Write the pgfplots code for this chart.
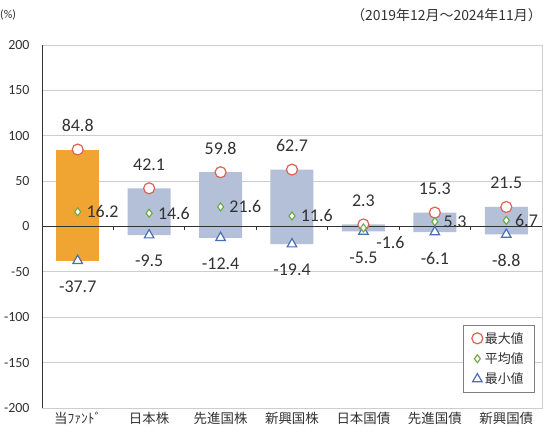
\documentclass[border=0pt]{standalone}
\usepackage{fontspec}
\setmainfont{Carlito}
\newfontfamily\jp{Noto Sans CJK JP}
\usepackage{pgfplots}
\pgfplotsset{compat=1.18}
\definecolor{orangebar}{RGB}{240,165,50}
\definecolor{bluebar}{RGB}{180,191,216}
\definecolor{cmax}{RGB}{222,98,82}
\definecolor{cavg}{RGB}{106,168,70}
\definecolor{cmin}{RGB}{72,110,180}
\definecolor{gridc}{RGB}{205,205,205}
\definecolor{txt}{RGB}{50,50,50}
\begin{document}
\begin{tikzpicture}
\begin{axis}[
 scale only axis, width=500bp, height=363bp,
 xmin=-0.5, xmax=6.5, ymin=-200, ymax=200,
 ytick={-200,-150,...,200},
 xtick={0,...,6},
 xticklabels={当ﾌｧﾝﾄﾞ,日本株,先進国株,新興国株,日本国債,先進国債,新興国債},
 xticklabel style={font=\jp\fontsize{13.5}{15}\selectfont, text=txt, yshift=-1bp},
 yticklabel style={font=\fontsize{14}{16}\selectfont, text=txt, xshift=-9bp},
 major tick length=0pt,
 ymajorgrids, grid style={gridc, line width=0.8pt},
 axis line style={gridc, line width=0.8pt},
 /pgf/number format/assume math mode=true,
 clip=false,
 legend style={at={(0.986,0.229)}, anchor=north east, draw=gray, line width=0.6pt,
   font=\jp\fontsize{13}{15}\selectfont, row sep=4bp, inner xsep=9bp, inner ysep=5bp, text=txt},
 legend cell align=left,
 nodes near coords style={font=\fontsize{18}{20}\selectfont, text=txt},
]
% floating bars (0..max and 0..min)
\addplot[ybar, bar width=43bp, bar shift=0pt, fill=orangebar, draw=none, forget plot] coordinates {(0,84.8)};
\addplot[ybar, bar width=43bp, bar shift=0pt, fill=orangebar, draw=none, forget plot] coordinates {(0,-37.7)};
\addplot[ybar, bar width=43bp, bar shift=0pt, fill=bluebar, draw=none, forget plot] coordinates {(1,42.1) (2,59.8) (3,62.7) (4,2.3) (5,15.3) (6,21.5)};
\addplot[ybar, bar width=43bp, bar shift=0pt, fill=bluebar, draw=none, forget plot] coordinates {(1,-9.5) (2,-12.4) (3,-19.4) (4,-5.5) (5,-6.1) (6,-8.8)};
% zero line and separators
\addplot[txt, line width=0.8pt, forget plot] coordinates {(-0.5,0) (6.5,0)};
\addplot[ycomb, txt, line width=0.8pt, no marks, forget plot] coordinates {(0.5,-4) (1.5,-4) (2.5,-4) (3.5,-4) (4.5,-4) (5.5,-4)};
% max
\addplot[only marks, mark=*, mark size=5.5bp, mark options={fill=white, draw=cmax, line width=1.2pt},
  nodes near coords, point meta=y, nodes near coords style={anchor=center, yshift=24bp,
  /pgf/number format/fixed, /pgf/number format/fixed zerofill, /pgf/number format/precision=1}]
  coordinates {(0,84.8) (1,42.1) (2,59.8) (3,62.7) (4,2.3) (5,15.3) (6,21.5)};
\addlegendentry{最大値}
% avg
\addplot[only marks, mark=diamond*, mark size=4bp, mark options={fill=white, draw=cavg, line width=1.1pt},
  nodes near coords, point meta=y, nodes near coords style={anchor=west, xshift=5bp,
  /pgf/number format/fixed, /pgf/number format/fixed zerofill, /pgf/number format/precision=1}]
  coordinates {(0,16.2) (1,14.6) (2,21.6) (3,11.6) (5,5.3) (6,6.7)};
\addlegendentry{平均値}
% min
\addplot[only marks, mark=triangle*, mark size=5.5bp, mark options={fill=white, draw=cmin, line width=1.2pt},
  nodes near coords, point meta=y, nodes near coords style={anchor=center, yshift=-26bp,
  /pgf/number format/fixed, /pgf/number format/fixed zerofill, /pgf/number format/precision=1}]
  coordinates {(0,-37.7) (1,-9.5) (2,-12.4) (3,-19.4) (4,-5.5) (5,-6.1) (6,-8.8)};
\addlegendentry{最小値}
% avg with shifted label
\addplot[only marks, mark=diamond*, mark size=4bp, mark options={fill=white, draw=cavg, line width=1.1pt},
  forget plot,
  nodes near coords, point meta=y, nodes near coords style={anchor=center, xshift=27bp, yshift=-15bp,
  /pgf/number format/fixed, /pgf/number format/fixed zerofill, /pgf/number format/precision=1}]
  coordinates {(4,-1.6)};
\draw[txt, line width=0.8pt] (rel axis cs:0,0) -- (rel axis cs:0,1);
\end{axis}
\node[anchor=west, font=\fontsize{12}{14}\selectfont, text=txt, inner sep=0pt] at (-42bp,393bp) {(\%)};
\node[anchor=east, font=\jp\fontsize{14}{16}\selectfont, text=txt, inner sep=0pt] at (500bp,393bp) {（2019年12月～2024年11月）};
\pgfresetboundingbox
\path[use as bounding box] (-42bp,-27bp) rectangle (501bp,408bp);
\end{tikzpicture}
\end{document}
